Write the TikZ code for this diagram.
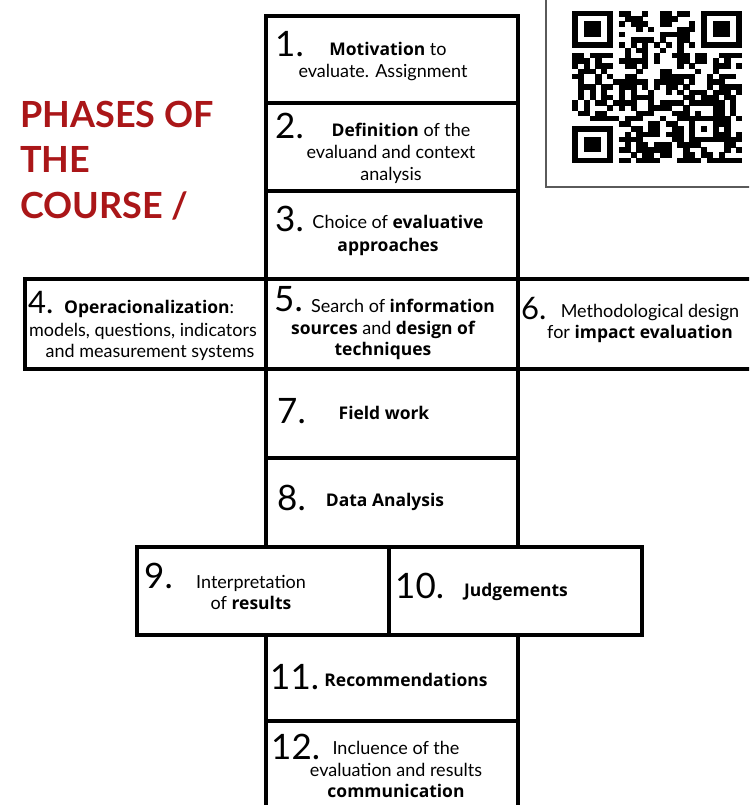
\documentclass[tikz,border=0pt]{standalone}
\usepackage{fontspec}
\setmainfont{Lato}
\newfontfamily\boldfam{Open Sans}[Scale=0.97]
\newcommand\mybold[1]{{\boldfam\bfseries #1}}
\definecolor{titlered}{RGB}{170,22,24}
\definecolor{framegray}{RGB}{90,90,90}
\tikzset{
  box/.style={draw, line width=3.8pt, inner sep=0pt, anchor=north west},
  txt/.style={anchor=base, font=\fontsize{18}{22}\selectfont, inner sep=0pt},
  num/.style={anchor=base west, font=\fontsize{35}{35}\selectfont, inner sep=0pt},
  smallnum/.style={num, font=\fontsize{31}{31}\selectfont},
  title/.style={anchor=base west, font=\fontsize{36}{36}\selectfont\bfseries, text=titlered, inner sep=0pt},
}
\begin{document}
\begin{tikzpicture}[x=1pt,y=-1pt]
\useasboundingbox (0,0) rectangle (749,805);
\clip (0,0) rectangle (749,805);
\fill[white] (0,0) rectangle (749,805);

% title
\node[title] (t1) at (20,128) {PHASES OF};
\node[title] (t2) at (20,173) {THE};
\node[title] (t3) at (20,218) {COURSE /};

% QR frame and code
\draw[framegray, line width=1.3pt] (546,-5) rectangle (760,187);
\def\qx{572}\def\qy{11}\def\mw{5.86}\def\mh{5.24}
\pgfmathsetseed{12}
\foreach \qr in {0,...,28}{
  \foreach \qc in {0,...,28}{
    \pgfmathtruncatemacro{\fz}{((\qr<8)&&(\qc<8)) || ((\qr<8)&&(\qc>20)) || ((\qr>20)&&(\qc<8)) ? 1 : 0}
    \pgfmathtruncatemacro{\az}{((\qr>19)&&(\qr<25)&&(\qc>19)&&(\qc<25)) ? 1 : 0}
    \pgfmathtruncatemacro{\tz}{((\qr==6)||(\qc==6)) ? 1 : 0}
    \ifnum\fz=0 \ifnum\az=0
      \ifnum\tz=1
        \pgfmathtruncatemacro{\on}{mod(\qr+\qc,2)==0 ? 1 : 0}
      \else
        \pgfmathtruncatemacro{\on}{rnd<0.56 ? 1 : 0}
      \fi
      \ifnum\on=1
        \fill (\qx+\qc*\mw, \qy+\qr*\mh) rectangle ++(\mw+0.3,\mh+0.3);
      \fi
    \fi\fi
  }
}
\foreach \fx/\fy in {0/0, 22/0, 0/22}{
  \fill (\qx+\fx*\mw, \qy+\fy*\mh) rectangle ++(7*\mw,7*\mh);
  \fill[white] (\qx+\fx*\mw+\mw, \qy+\fy*\mh+\mh) rectangle ++(5*\mw,5*\mh);
  \fill (\qx+\fx*\mw+2*\mw, \qy+\fy*\mh+2*\mh) rectangle ++(3*\mw,3*\mh);
}
\fill (\qx+20*\mw, \qy+20*\mh) rectangle ++(5*\mw,5*\mh);
\fill[white] (\qx+21*\mw, \qy+21*\mh) rectangle ++(3*\mw,3*\mh);
\fill (\qx+22*\mw, \qy+22*\mh) rectangle ++(\mw,\mh);

% boxes
\node[box, minimum width=252pt, minimum height=87pt] (b1) at (264,14) {};
\node[box, minimum width=252pt, minimum height=88pt] (b2) at (264,101) {};
\node[box, minimum width=252pt, minimum height=88pt] (b3) at (264,189) {};
\node[box, minimum width=241pt, minimum height=90pt] (b4) at (23,277) {};
\node[box, minimum width=252pt, minimum height=90pt] (b5) at (264,277) {};
\node[box, minimum width=250pt, minimum height=90pt] (b6) at (516,277) {};
\node[box, minimum width=252pt, minimum height=89pt] (b7) at (264,367) {};
\node[box, minimum width=252pt, minimum height=89pt] (b8) at (264,456) {};
\node[box, minimum width=252pt, minimum height=88pt] (b9) at (135,545) {};
\node[box, minimum width=253pt, minimum height=88pt] (b10) at (387,545) {};
\node[box, minimum width=252pt, minimum height=86pt] (b11) at (264,633) {};
\node[box, minimum width=252pt, minimum height=100pt] (b12) at (264,719) {};

% box 1
\node[num] (n1) at (275,57) {1.};
\node[txt] (l1a) at (388,56) {\mybold{Motivation} to};
\node[txt] (l1b) at (383,78) {evaluate. Assignment};
% box 2
\node[num] (n2) at (275,139) {2.};
\node[txt] (l2a) at (401,137) {\mybold{Definition} of the};
\node[txt] (l2b) at (391,159) {evaluand and context};
\node[txt] (l2c) at (391,180) {analysis};
% box 3
\node[num] (n3) at (275,231) {3.};
\node[txt] (l3a) at (398,228) {Choice of \mybold{evaluative}};
\node[txt] (l3b) at (388,251) {\mybold{approaches}};
% box 4
\node[smallnum] (n4) at (28,313) {4.};
\node[txt, anchor=base west] (l4a) at (64,313) {\mybold{Operacionalization}:};
\node[txt] (l4b) at (143,336) {models, questions, indicators};
\node[txt] (l4c) at (150,357) {and measurement systems};
% box 5
\node[num] (n5) at (274,311) {5.};
\node[txt] (l5a) at (403,312) {Search of \mybold{information}};
\node[txt] (l5b) at (383,334) {\mybold{sources} and \mybold{design of}};
\node[txt] (l5c) at (383,355) {\mybold{techniques}};
% box 6
\node[smallnum] (n6) at (521,319) {6.};
\node[txt] (l6a) at (650,317) {Methodological design};
\node[txt] (l6b) at (640,338) {for \mybold{impact evaluation}};
% box 7
\node[num] (n7) at (277,423) {7.};
\node[txt] (l7) at (384,419) {\mybold{Field work}};
% box 8
\node[num] (n8) at (277,510) {8.};
\node[txt] (l8) at (385,506) {\mybold{Data Analysis}};
% box 9
\node[num] (n9) at (144,588) {9.};
\node[txt] (l9a) at (251,588) {Interpretation};
\node[txt] (l9b) at (251,609) {of \mybold{results}};
% box 10
\node[num] (n10) at (395,598) {10.};
\node[txt] (l10) at (516,596) {\mybold{Judgements}};
% box 11
\node[num] (n11) at (270,689) {11.};
\node[txt] (l11) at (406,686) {\mybold{Recommendations}};
% box 12
\node[num] (n12) at (271,759) {12.};
\node[txt] (l12a) at (396,754) {Incluence of the};
\node[txt] (l12b) at (396,776) {evaluation and results};
\node[txt] (l12c) at (396,797) {\mybold{communication}};
\end{tikzpicture}
\end{document}
